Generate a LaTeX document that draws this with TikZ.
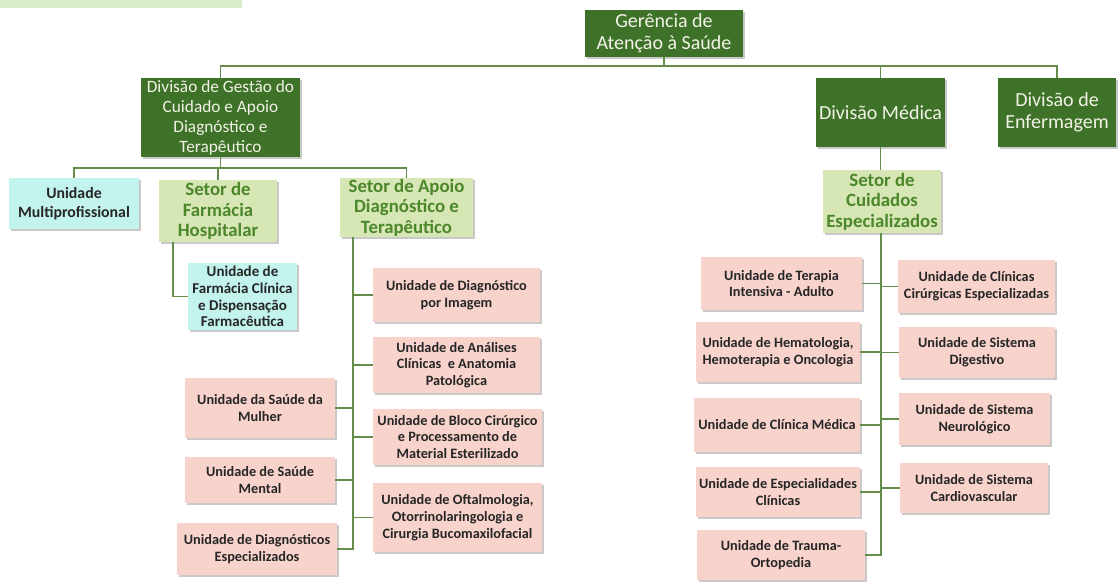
\documentclass[tikz,border=0pt]{standalone}
\usepackage{fontspec}
\setmainfont{Carlito}
\usetikzlibrary{shadows}
\definecolor{dkgreen}{HTML}{3E7229}
\definecolor{ltgreen}{HTML}{D6E6B4}
\definecolor{setortxt}{HTML}{4C872B}
\definecolor{aqua}{HTML}{C2F3EC}
\definecolor{pinkbox}{HTML}{F8D3CC}
\definecolor{linegreen}{HTML}{668C4A}
\definecolor{strip}{HTML}{D9EDCB}
\definecolor{divtxt}{HTML}{F2F2E6}
\tikzset{
  wh/.style 2 args={minimum width=#1pt, minimum height=#2pt},
  boxbase/.style={draw=none, inner sep=1pt, align=center, anchor=center,
    drop shadow={shadow xshift=1.6pt, shadow yshift=-1.8pt, opacity=0.35, fill=black!60}},
  topbox/.style={boxbase, fill=dkgreen, text=divtxt, font=\fontsize{20}{22}\selectfont},
  divbox/.style={boxbase, fill=dkgreen, text=divtxt, font=\fontsize{17.3}{20}\selectfont},
  divbig/.style={boxbase, fill=dkgreen, text=divtxt, font=\fontsize{20}{22.5}\selectfont},
  setorbox/.style={boxbase, fill=ltgreen, text=setortxt, font=\bfseries\fontsize{18.8}{20.5}\selectfont},
  aquabox/.style={boxbase, fill=aqua, text=black!85, font=\bfseries\fontsize{15.8}{19}\selectfont},
  aquasmall/.style={boxbase, fill=aqua, text=black!85, font=\bfseries\fontsize{15}{16.7}\selectfont},
  unitbox/.style={boxbase, fill=pinkbox, text=black!85, font=\bfseries\fontsize{14.3}{16.8}\selectfont},
  conn/.style={draw=linegreen, line width=1.5pt}
}
\begin{document}
\begin{tikzpicture}[x=1pt,y=-1pt]
\useasboundingbox (0,0) rectangle (1118,581);
\fill[white] (0,0) rectangle (1118,581);
\fill[strip] (0,0) rectangle (242,8);

% top level
\node[topbox, wh={158}{47}] (top) at (664,33.5) {Gerência de\\Atenção à Saúde};
\node[divbox, wh={159}{79}] (gest) at (220.5,117.5) {Divisão de Gestão do\\Cuidado e Apoio\\Diagnóstico e\\Terapêutico};
\node[divbig, wh={129}{69}] (med) at (880.5,112.5) {Divisão Médica};
\node[divbig, wh={118}{69}] (enf) at (1057,112.5) {Divisão de\\Enfermagem};

% second level left
\node[aquabox, wh={130}{51}] (multi) at (74,203.5) {Unidade\\Multiprofissional};
\node[setorbox, wh={118}{62}] (farm) at (218,211) {Setor de\\Farmácia\\Hospitalar};
\node[setorbox, wh={133}{59}] (apoio) at (406.5,207.5) {Setor de Apoio\\Diagnóstico e\\Terapêutico};
\node[aquasmall, wh={109}{67}] (fclin) at (242.5,296.5) {Unidade de\\Farmácia Clínica\\e Dispensação\\Farmacêutica};

% apoio units
\node[unitbox, wh={167}{54}] (dimg) at (456.5,295) {Unidade de Diagnóstico\\por Imagem};
\node[unitbox, wh={167}{56}] (anal) at (456.5,365) {Unidade de Análises\\Clínicas\ \ e Anatomia\\Patológica};
\node[unitbox, wh={169}{56}] (bloco) at (457.5,437) {Unidade de Bloco Cirúrgico\\e Processamento de\\Material Esterilizado};
\node[unitbox, wh={169}{69}] (oft) at (457.5,517.5) {Unidade de Oftalmologia,\\Otorrinolaringologia e\\Cirurgia Bucomaxilofacial};
\node[unitbox, wh={150}{60}] (mulher) at (260,408) {Unidade da Saúde da\\Mulher};
\node[unitbox, wh={150}{46}] (mental) at (260,480) {Unidade de Saúde\\Mental};
\node[unitbox, wh={160}{52}] (desp) at (257,549) {Unidade de Diagnósticos\\Especializados};

% medica
\node[setorbox, wh={118}{63}] (cuid) at (882,201.5) {Setor de\\Cuidados\\Especializados};
\node[unitbox, wh={161}{53}] (uti) at (781.5,283.5) {Unidade de Terapia\\Intensiva - Adulto};
\node[unitbox, wh={164}{60}] (hemo) at (778,352) {Unidade de Hematologia,\\Hemoterapia e Oncologia};
\node[unitbox, wh={166}{54}] (cmed) at (777,425) {Unidade de Clínica Médica};
\node[unitbox, wh={164}{50}] (espc) at (778,492) {Unidade de Especialidades\\Clínicas};
\node[unitbox, wh={168}{50}] (trauma) at (781,555) {Unidade de Trauma-\\Ortopedia};
\node[unitbox, wh={157}{53}] (ccir) at (976.5,286.5) {Unidade de Clínicas\\Cirúrgicas Especializadas};
\node[unitbox, wh={156}{51}] (dig) at (977,352.5) {Unidade de Sistema\\Digestivo};
\node[unitbox, wh={151}{52}] (neuro) at (974.5,419) {Unidade de Sistema\\Neurológico};
\node[unitbox, wh={148}{50}] (cardio) at (974,488) {Unidade de Sistema\\Cardiovascular};

% connectors
\coordinate (bus) at (0,66);
\coordinate (bus2) at (0,168);
\draw[conn] (top.south) -- (top.south |- bus);
\draw[conn] (gest.north) -- (gest.north |- bus) -- (enf.north |- bus) -- (enf.north);
\draw[conn] (med.north) -- (med.north |- bus);
\draw[conn] (gest.south) -- (gest.south |- bus2);
\draw[conn] (multi.north) -- (multi.north |- bus2) -- (apoio.north |- bus2) -- (apoio.north);
\draw[conn] (farm.north) -- (farm.north |- bus2);

\coordinate (ft) at ([xshift=-45pt]farm.south);
\draw[conn] (ft) |- (fclin.west);

\coordinate (at) at ([xshift=-53.5pt]apoio.south);
\draw[conn] (at) |- (dimg.west);
\draw[conn] (at) |- (anal.west);
\draw[conn] (at) |- (bloco.west);
\draw[conn] (at) |- (oft.west);
\draw[conn] (at) |- (mulher.east);
\draw[conn] (at) |- (mental.east);
\draw[conn] (at) |- (desp.east);

\draw[conn] (med.south) -- (med.south |- cuid.north);
\coordinate (ct) at ([xshift=-1pt]cuid.south);
\draw[conn] (ct) |- (uti.east);
\draw[conn] (ct) |- (hemo.east);
\draw[conn] (ct) |- (cmed.east);
\draw[conn] (ct) |- (espc.east);
\draw[conn] (ct) |- (trauma.east);
\draw[conn] (ct) |- (ccir.west);
\draw[conn] (ct) |- (dig.west);
\draw[conn] (ct) |- (neuro.west);
\draw[conn] (ct) |- (cardio.west);
\end{tikzpicture}
\end{document}
